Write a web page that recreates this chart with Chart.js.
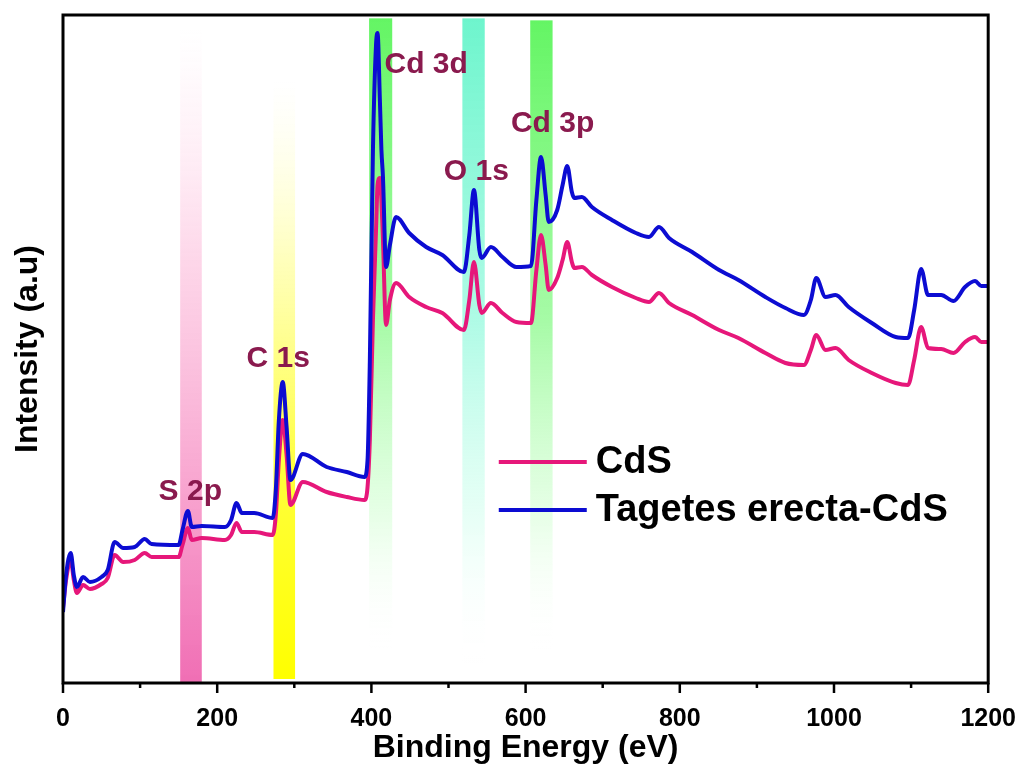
<!DOCTYPE html>
<html><head><meta charset="utf-8">
<script src="https://cdn.jsdelivr.net/npm/chart.js@4.4.1/dist/chart.umd.min.js"></script>
<style>html,body{margin:0;padding:0;background:#fff;}#wrap{width:1027px;height:771px;position:relative;}</style>
</head><body><div id="wrap"><canvas id="c"></canvas></div>
<script>
// ---- data ----
const energies = [0,4,10,14,18,26,35,50,58,67,78,93,106,115,150,155,162,167,180,210,218,225,232,248,272,276,280,285,290,295,311,342,368,391,395,398,402,406,408,411,413,415,419,424,432,449,471,492,520,527,533,540,543,555,570,588,607,614,620,626,630,641,648,654,660,663,673,686,712,743,760,773,786,816,851,876,911,937,961,970,977,989,1002,1019,1049,1080,1096,1104,1113,1122,1139,1155,1170,1183,1191,1200];
const tagetesIntensity = [71,108,130,108,96,106,101,106,113,141,135,136,144,139,138,153,172,156,157,156,163,180,170,170,165,193,263,301,256,203,229,216,211,206,223,323,533,638,650,583,533,506,416,438,466,450,436,428,411,448,493,433,425,436,426,416,417,483,526,488,461,473,498,517,491,485,486,476,463,450,446,456,445,431,413,403,386,375,368,383,405,386,388,376,360,346,345,373,414,388,388,382,396,402,397,397];
const cdsIntensity = [75,103,123,103,90,98,94,99,105,128,121,123,130,126,126,138,155,143,145,143,148,160,151,151,148,168,223,263,228,178,201,191,186,183,196,243,363,453,498,505,483,443,358,383,400,386,376,370,353,383,421,378,370,380,370,361,360,413,448,418,393,405,423,441,421,415,416,408,396,385,381,390,380,368,353,345,330,320,318,333,348,333,335,323,310,300,298,323,356,335,334,330,341,346,341,341];
const seriesNames = ['CdS', 'Tagetes erecta-CdS'];
const xTickLabels = [0,200,400,600,800,1000,1200];
const peakLabels = ['S 2p','C 1s','Cd 3d','O 1s','Cd 3p'];
const peakLabelEnergy = [124,238,417,494,581];
const peakLabelIntensity = [183,316,610,503,551];
const bandStart = [152,273,397,518,606];
const bandEnd = [180,301,427,547,635];

const FONT = "'Liberation Sans', Arial, Helvetica, sans-serif";
Chart.defaults.font.family = FONT;

const toPts = vals => energies.map((e,i)=>({x:e,y:vals[i]}));

const bandStyles = [
  {top:0.02, stops:[[0,'rgba(255,230,242,0)'],[0.35,'rgba(253,205,228,0.8)'],[0.7,'rgba(248,160,205,0.95)'],[1,'rgba(240,110,180,1)']]},
  {top:0.10, stops:[[0,'rgba(255,255,220,0)'],[0.3,'rgba(255,255,170,0.8)'],[0.65,'rgba(255,255,60,1)'],[1,'rgba(255,255,0,1)']]},
  {top:0.005, stops:[[0,'rgba(100,245,100,1)'],[0.45,'rgba(150,250,150,0.85)'],[0.75,'rgba(215,255,215,0.6)'],[0.95,'rgba(255,255,255,0)']]},
  {top:0.005, stops:[[0,'rgba(110,245,205,1)'],[0.45,'rgba(160,250,225,0.85)'],[0.75,'rgba(215,255,240,0.6)'],[0.97,'rgba(255,255,255,0)']]},
  {top:0.008, stops:[[0,'rgba(100,245,100,1)'],[0.45,'rgba(150,250,150,0.85)'],[0.75,'rgba(215,255,215,0.6)'],[0.95,'rgba(255,255,255,0)']]}
];

const bandsPlugin = {
  id:'bands',
  beforeDatasetsDraw(chart){
    const {ctx, chartArea:a, scales:{x}} = chart;
    ctx.save();
    bandStart.forEach((s,i)=>{
      const st = bandStyles[i];
      const x0 = x.getPixelForValue(s), x1 = x.getPixelForValue(bandEnd[i]);
      const yTop = a.top + st.top*(a.bottom-a.top);
      const yBot = (i===1) ? a.bottom-4 : a.bottom;
      const g = ctx.createLinearGradient(0,yTop,0,yBot);
      st.stops.forEach(([p,c])=>g.addColorStop(p,c));
      ctx.fillStyle = g;
      ctx.fillRect(x0,yTop,x1-x0,yBot-yTop);
    });
    ctx.restore();
  }
};

const framePlugin = {
  id:'frame',
  afterDatasetsDraw(chart){
    const {ctx, chartArea:a, scales:{x}} = chart;
    ctx.save();
    ctx.strokeStyle='#000';
    ctx.lineWidth=3;
    ctx.strokeRect(a.left,a.top,a.right-a.left,a.bottom-a.top);
    ctx.lineWidth=2.5;
    for(let v=x.min; v<=x.max; v+=100){
      const px = x.getPixelForValue(v);
      const len = (v%200===0)?10:5;
      ctx.beginPath(); ctx.moveTo(px,a.bottom); ctx.lineTo(px,a.bottom+len); ctx.stroke();
    }
    ctx.fillStyle='#8a1a4e';
    ctx.font = "bold 30px "+FONT;
    ctx.textAlign='left'; ctx.textBaseline='alphabetic';
    const y = chart.scales.y;
    peakLabels.forEach((t,i)=>{
      ctx.fillText(t, x.getPixelForValue(peakLabelEnergy[i]), y.getPixelForValue(peakLabelIntensity[i]));
    });
    const ds = chart.data.datasets;
    const lx0 = a.left + 0.471*(a.right-a.left);
    const lx1 = lx0 + 88;
    const ly0 = a.top + 0.669*(a.bottom-a.top);
    ctx.font = "bold 38px "+FONT;
    ctx.textBaseline='middle';
    ds.forEach((d,i)=>{
      const ly = ly0 + i*48;
      ctx.strokeStyle=d.borderColor; ctx.lineWidth=4;
      ctx.beginPath(); ctx.moveTo(lx0,ly); ctx.lineTo(lx1,ly); ctx.stroke();
      ctx.fillStyle='#000';
      ctx.fillText(d.label, lx1+9, ly+1);
    });
    ctx.restore();
  }
};

new Chart(document.getElementById('c'),{
  type:'line',
  data:{datasets:[
    {label:seriesNames[0], data:toPts(cdsIntensity), borderColor:'#e6177a', borderWidth:4, pointRadius:0, cubicInterpolationMode:'monotone', order:1, fill:false},
    {label:seriesNames[1], data:toPts(tagetesIntensity), borderColor:'#0c0cd2', borderWidth:4, pointRadius:0, cubicInterpolationMode:'monotone', order:0, fill:false}
  ]},
  options:{
    responsive:true, maintainAspectRatio:false, animation:false,
    layout:{padding:{left:0,top:15,right:36,bottom:0}},
    plugins:{legend:{display:false}, tooltip:{enabled:false}},
    scales:{
      x:{type:'linear', min:0, max:1200,
        afterBuildTicks:(s)=>{ s.ticks = xTickLabels.map(v=>({value:v})); },
        afterFit:(s)=>{ s.height = 88; },
        grid:{display:true, drawOnChartArea:false, drawTicks:true, tickLength:10, tickColor:'rgba(0,0,0,0)'},
        border:{display:false},
        ticks:{color:'#000', padding:11, font:{size:25, weight:'bold'}, maxRotation:0, autoSkip:false, callback:(v)=>String(v)},
        title:{display:true, text:'Binding Energy (eV)', color:'#000', font:{size:32, weight:'bold'}, padding:{top:0,bottom:4}}
      },
      y:{type:'linear', min:0, max:668,
        afterFit:(s)=>{ s.width = 63; },
        grid:{display:false}, border:{display:false},
        ticks:{display:false},
        title:{display:true, text:'Intensity (a.u)', color:'#000', font:{size:32, weight:'bold'}, padding:{top:9,bottom:0}}
      }
    }
  },
  plugins:[bandsPlugin, framePlugin]
});
</script></body></html>
